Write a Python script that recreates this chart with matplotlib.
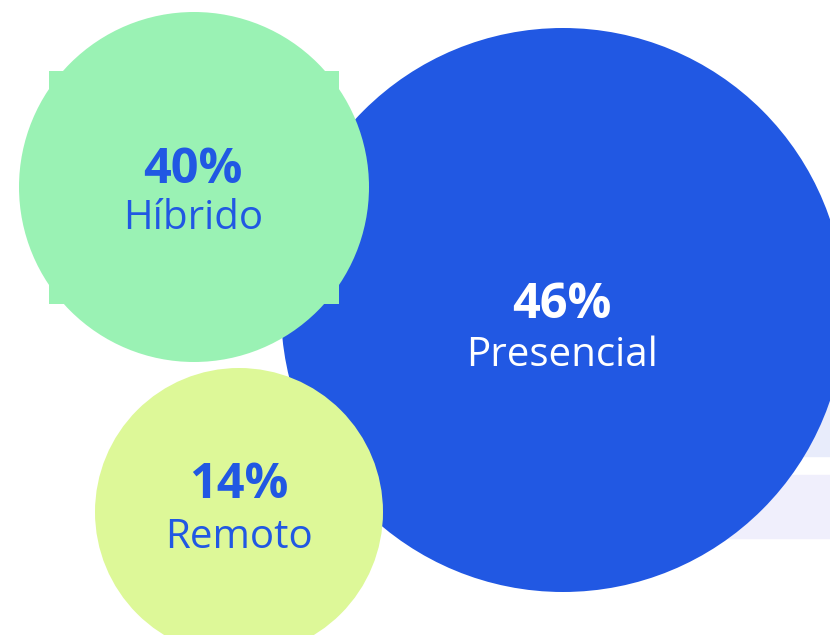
import matplotlib
matplotlib.use('Agg')
from matplotlib import pyplot as plt
from matplotlib.patches import Circle, Rectangle

# data
categories = ['Presencial', 'Híbrido', 'Remoto']
shares = [46, 40, 14]

# layout (pixels), one entry per category
centers = [(563, 310), (194, 187), (239, 512)]
radii = [282, 175, 144]
fills = ['#2158e3', '#9af2b4', '#ddf898']
text_colors = ['#ffffff', '#2158e3', '#2158e3']
num_base = [318, 183, 498]
lab_base = [366, 229, 548]
text_x = [562, 193, 239]

W, H = 830, 635
fig = plt.figure(figsize=(W / 100, H / 100), dpi=100)
ax = fig.add_axes([0, 0, 1, 1])
ax.set_xlim(0, W)
ax.set_ylim(H, 0)
ax.set_aspect('equal')
ax.axis('off')

# light strips behind the big bubble
ax.add_patch(Rectangle((600, 395), 240, 61, color='#e8ecfb', zorder=0))
ax.add_patch(Rectangle((600, 475), 240, 63, color='#f0effc', zorder=0))

for i in range(len(categories)):
    ax.add_patch(Circle(centers[i], radii[i], color=fills[i], zorder=1 + i, lw=0))

# square corners peeking out of the green bubble
ax.add_patch(Rectangle((49, 71), 290, 233, color=fills[1], zorder=2, lw=0))

for i in range(len(categories)):
    ax.text(text_x[i], num_base[i], f'{shares[i]}%', ha='center', va='baseline', fontsize=35,
            fontweight='bold', color=text_colors[i], family='Open Sans', zorder=10)
    ax.text(text_x[i], lab_base[i], categories[i], ha='center', va='baseline', fontsize=29,
            color=text_colors[i], family='Open Sans', zorder=10)

fig.savefig('out.png', dpi=100, facecolor='white')
